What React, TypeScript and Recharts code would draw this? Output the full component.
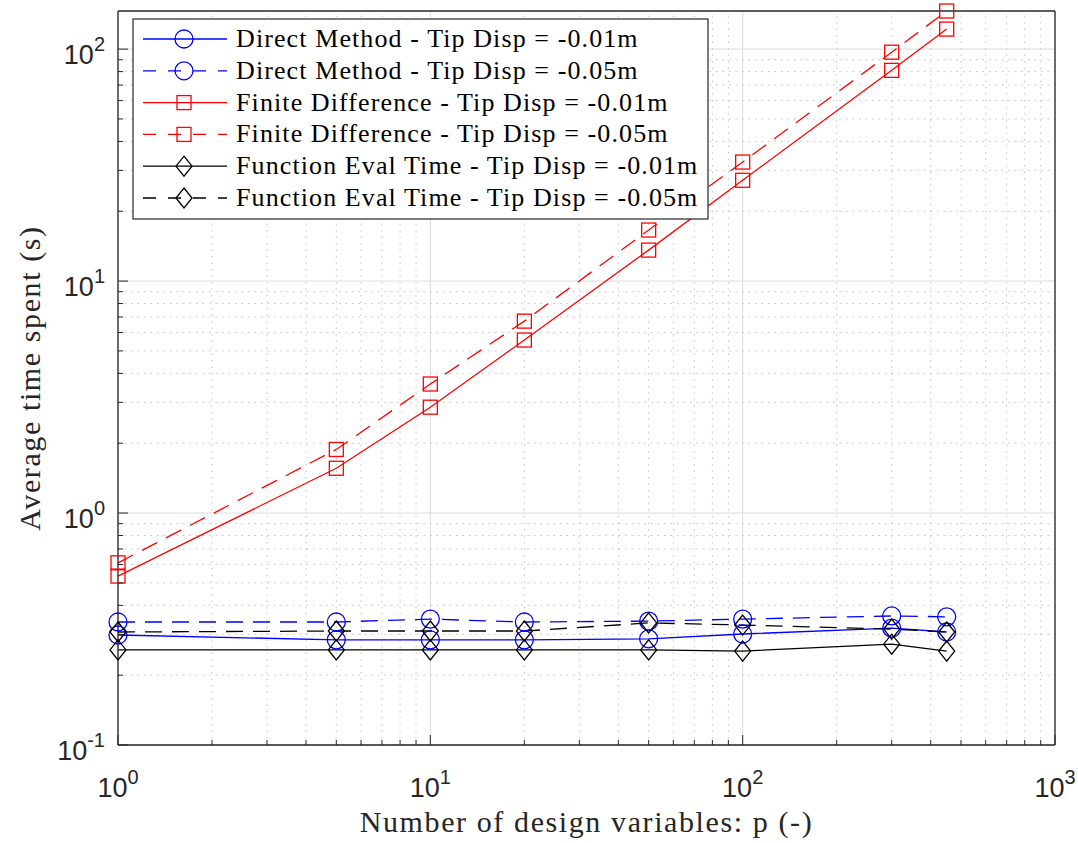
import { LineChart, Line, XAxis, YAxis, ReferenceLine } from "recharts";

// number of design variables p
const P = [1, 5, 10, 20, 50, 100, 300, 450];

// average time spent (s)
const DIRECT_001 = [0.298, 0.284, 0.284, 0.284, 0.287, 0.301, 0.319, 0.307];
const DIRECT_005 = [0.339, 0.339, 0.349, 0.339, 0.342, 0.349, 0.36, 0.357];
const FD_001 = [0.535, 1.56, 2.86, 5.57, 13.6, 27.2, 81, 122];
const FD_005 = [0.61, 1.88, 3.6, 6.72, 16.6, 32.6, 97, 146];
const FEVAL_001 = [0.257, 0.257, 0.257, 0.257, 0.257, 0.254, 0.272, 0.254];
const FEVAL_005 = [0.307, 0.31, 0.31, 0.31, 0.336, 0.329, 0.316, 0.307];

const X_TICKS = [1, 2, 3, 4, 5, 6, 7, 8, 9, 10, 20, 30, 40, 50, 60, 70, 80, 90, 100, 200, 300, 400, 500, 600, 700, 800, 900, 1000];
const Y_TICKS = [0.1, 0.2, 0.3, 0.4, 0.5, 0.6, 0.7, 0.8, 0.9, 1, 2, 3, 4, 5, 6, 7, 8, 9, 10, 20, 30, 40, 50, 60, 70, 80, 90, 100];
const X_DOMAIN = [1, 1000];
const Y_DOMAIN = [0.1, 146];

const DASH = "17 10";

const SERIES = [
  { key: "dm1", values: DIRECT_001, name: "Direct Method - Tip Disp = -0.01m", color: "#0000ff", dash: undefined, marker: "circle" },
  { key: "dm5", values: DIRECT_005, name: "Direct Method - Tip Disp = -0.05m", color: "#0000ff", dash: DASH, marker: "circle" },
  { key: "fd1", values: FD_001, name: "Finite Difference - Tip Disp = -0.01m", color: "#ff0000", dash: undefined, marker: "square" },
  { key: "fd5", values: FD_005, name: "Finite Difference - Tip Disp = -0.05m", color: "#ff0000", dash: DASH, marker: "square" },
  { key: "fe1", values: FEVAL_001, name: "Function Eval Time - Tip Disp = -0.01m", color: "#000000", dash: undefined, marker: "diamond" },
  { key: "fe5", values: FEVAL_005, name: "Function Eval Time - Tip Disp = -0.05m", color: "#000000", dash: DASH, marker: "diamond" },
];

const data = P.map((p, i) => {
  const row: Record<string, number> = { p };
  SERIES.forEach((s) => (row[s.key] = s.values[i]));
  return row;
});

const AXIS = "#262626";
const SANS = "'Liberation Sans', Arial, sans-serif";
const SERIF = "'Liberation Serif', 'Times New Roman', serif";

const isMajor = (v: number) => Math.abs(Math.log10(v) - Math.round(Math.log10(v))) < 1e-6;
const expOf = (v: number) => Math.round(Math.log10(v));

function Marker({ shape, color, cx, cy }: { shape: string; color: string; cx: number; cy: number }) {
  if (shape === "circle") return <circle cx={cx} cy={cy} r={9} fill="none" stroke={color} strokeWidth={1.3} />;
  if (shape === "square")
    return <rect x={cx - 7} y={cy - 7} width={14} height={14} fill="none" stroke={color} strokeWidth={1.3} />;
  return (
    <polygon
      points={`${cx},${cy - 10} ${cx + 8},${cy} ${cx},${cy + 10} ${cx - 8},${cy}`}
      fill="none"
      stroke={color}
      strokeWidth={1.3}
    />
  );
}

function BottomTick(props: any) {
  const { x, y, payload } = props;
  const major = isMajor(payload.value);
  return (
    <g>
      <line x1={x} x2={x} y1={y} y2={y - (major ? 10 : 5)} stroke={AXIS} />
      {major && (
        <text x={x} y={y + 52} textAnchor="middle" fontFamily={SANS} fontSize={27} fill={AXIS}>
          10<tspan dy={-13} fontSize={20}>{expOf(payload.value)}</tspan>
        </text>
      )}
    </g>
  );
}

function TopTick(props: any) {
  const { x, y, payload } = props;
  const major = isMajor(payload.value);
  return <line x1={x} x2={x} y1={y} y2={y + (major ? 10 : 5)} stroke={AXIS} />;
}

function LeftTick(props: any) {
  const { x, y, payload } = props;
  const major = isMajor(payload.value);
  const e = expOf(payload.value);
  return (
    <g>
      <line x1={x} x2={x + (major ? 10 : 5)} y1={y} y2={y} stroke={AXIS} />
      {major && (
        <text x={x - 13} y={y + 15} textAnchor="end" fontFamily={SANS} fontSize={27} fill={AXIS}>
          10<tspan dy={-13} fontSize={20}>{e}</tspan>
        </text>
      )}
    </g>
  );
}

function RightTick(props: any) {
  const { x, y, payload } = props;
  const major = isMajor(payload.value);
  return <line x1={x} x2={x - (major ? 10 : 5)} y1={y} y2={y} stroke={AXIS} />;
}

function XTitle(p: any) {
  const vb = p.viewBox;
  return (
    <text
      x={vb.x + vb.width / 2}
      y={vb.y + 87}
      textAnchor="middle"
      fontFamily={SERIF}
      fontSize={30}
      letterSpacing={1.6}
      fill={AXIS}
    >
      Number of design variables: p (-)
    </text>
  );
}

function YTitle(p: any) {
  const vb = p.viewBox;
  const cx = vb.x + vb.width - 78;
  const cy = vb.y + vb.height / 2;
  return (
    <text
      x={cx}
      y={cy}
      transform={`rotate(-90 ${cx} ${cy})`}
      textAnchor="middle"
      fontFamily={SERIF}
      fontSize={30}
      letterSpacing={1.6}
      fill={AXIS}
    >
      Average time spent (s)
    </text>
  );
}

function Legend() {
  const rowH = 31.8;
  return (
    <svg width={577} height={202} style={{ position: "absolute", left: 132, top: 18 }}>
      <rect x={1} y={1} width={575} height={200} fill="#ffffff" stroke={AXIS} strokeWidth={1.2} />
      {SERIES.map((s, i) => {
        const cy = 21 + i * rowH;
        return (
          <g key={s.key}>
            <line
              x1={11}
              x2={95}
              y1={cy}
              y2={cy}
              stroke={s.color}
              strokeWidth={1.3}
              strokeDasharray={s.dash ? "13 12" : undefined}
            />
            <Marker shape={s.marker} color={s.color} cx={52} cy={cy} />
            <text x={104} y={cy + 8} fontFamily={SERIF} fontSize={26} letterSpacing={1.1} fill="#000">
              {s.name}
            </text>
          </g>
        );
      })}
    </svg>
  );
}

export default function App() {
  return (
    <div style={{ position: "absolute", left: 0, top: 0, width: 1078, height: 843, background: "#fff" }}>
      <LineChart width={1078} height={843} data={data} margin={{ top: 10, right: 22, bottom: 97, left: 117 }}>
        {X_TICKS.map((v) => (
          <ReferenceLine
            key={`gx${v}`}
            x={v}
            stroke={isMajor(v) ? "#dcdcdc" : "#c4c4c4"}
            strokeWidth={1}
            strokeDasharray={isMajor(v) ? undefined : "1.5 5"}
          />
        ))}
        {Y_TICKS.map((v) => (
          <ReferenceLine
            key={`gy${v}`}
            y={v}
            stroke={isMajor(v) ? "#dcdcdc" : "#c4c4c4"}
            strokeWidth={1}
            strokeDasharray={isMajor(v) ? undefined : "1.5 5"}
          />
        ))}
        <XAxis
          dataKey="p"
          type="number"
          scale="log"
          domain={X_DOMAIN}
          ticks={X_TICKS}
          interval={0}
          height={1}
          tickSize={0}
          tickMargin={0}
          tickLine={false}
          tick={<BottomTick />}
          axisLine={{ stroke: AXIS, strokeWidth: 1.3 }}
          label={<XTitle />}
        />
        <XAxis
          xAxisId="top"
          orientation="top"
          type="number"
          scale="log"
          domain={X_DOMAIN}
          ticks={X_TICKS}
          interval={0}
          height={1}
          tickSize={0}
          tickMargin={0}
          tickLine={false}
          tick={<TopTick />}
          axisLine={{ stroke: AXIS, strokeWidth: 1.3 }}
        />
        <YAxis
          type="number"
          scale="log"
          domain={Y_DOMAIN}
          ticks={Y_TICKS}
          interval={0}
          width={1}
          tickSize={0}
          tickMargin={0}
          tickLine={false}
          tick={<LeftTick />}
          axisLine={{ stroke: AXIS, strokeWidth: 1.3 }}
          label={<YTitle />}
        />
        <YAxis
          yAxisId="right"
          orientation="right"
          type="number"
          scale="log"
          domain={Y_DOMAIN}
          ticks={Y_TICKS}
          interval={0}
          width={1}
          tickSize={0}
          tickMargin={0}
          tickLine={false}
          tick={<RightTick />}
          axisLine={{ stroke: AXIS, strokeWidth: 1.3 }}
        />
        {SERIES.map((s) => (
          <Line
            key={s.key}
            dataKey={s.key}
            type="linear"
            stroke={s.color}
            strokeWidth={1.3}
            strokeDasharray={s.dash}
            isAnimationActive={false}
            dot={(d: any) => <Marker key={`${s.key}-${d.index}`} shape={s.marker} color={s.color} cx={d.cx} cy={d.cy} />}
            activeDot={false}
          />
        ))}
      </LineChart>
      <Legend />
    </div>
  );
}
